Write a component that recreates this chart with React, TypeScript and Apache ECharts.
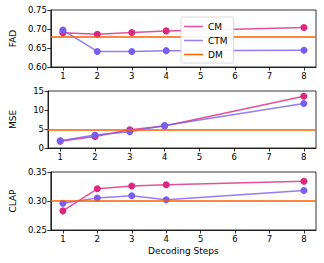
import React, { useEffect, useRef } from "react";
import * as echarts from "echarts";

const steps = [1, 2, 3, 4, 8];
const xTicks = [1, 2, 3, 4, 5, 6, 7, 8];

const fadCM = [0.690, 0.686, 0.691, 0.695, 0.704];
const fadCTM = [0.697, 0.641, 0.641, 0.643, 0.644];
const fadDM = 0.682;

const mseCM = [1.8, 3.05, 4.8, 5.8, 13.6];
const mseCTM = [1.9, 3.4, 4.3, 5.9, 11.7];
const mseDM = 4.8;

const clapCM = [0.283, 0.321, 0.326, 0.328, 0.334];
const clapCTM = [0.296, 0.305, 0.309, 0.302, 0.318];
const clapDM = 0.296;

const panels = [
  { name: "FAD", cm: fadCM, ctm: fadCTM, dm: fadDM, min: 0.6, max: 0.75, interval: 0.05, dec: 2 },
  { name: "MSE", cm: mseCM, ctm: mseCTM, dm: mseDM, min: 0, max: 15, interval: 5, dec: 0 },
  { name: "CLAP", cm: clapCM, ctm: clapCTM, dm: clapDM, min: 0.25, max: 0.35, interval: 0.05, dec: 2 },
];

const C_CM = "#dc267f";
const C_CTM = "#785ef0";
const C_DM = "#fe6100";
const FONT = "DejaVu Sans";

export default function App() {
  const ref = useRef<HTMLDivElement>(null);
  useEffect(() => {
    if (!ref.current) return;
    const chart = echarts.init(ref.current, null, { renderer: "svg" });
    const tops = [10, 91, 172];
    const heights = [57, 57, 58];
    const grids = panels.map((_, i) => ({
      left: 40,
      right: 8,
      top: tops[i],
      height: heights[i],
      show: true,
      borderColor: "#000",
      borderWidth: 0.8,
      backgroundColor: "transparent",
    }));
    const xAxes = panels.map((_, i) => ({
      type: "value",
      gridIndex: i,
      min: 0.65,
      max: 8.35,
      splitLine: { show: false },
      axisLine: { show: true, lineStyle: { color: "#000", width: 0.8 } },
      axisTick: { show: true, customValues: xTicks, length: 3.5, lineStyle: { color: "#000", width: 0.8 } },
      axisLabel: {
        customValues: xTicks,
        color: "#000",
        fontSize: 8.5,
        fontFamily: FONT,
        margin: 4,
        formatter: (v: number) => String(Math.round(v)),
      },
      name: i === 2 ? "Decoding Steps" : "",
      nameLocation: "middle",
      nameGap: 16,
      nameTextStyle: { color: "#000", fontSize: 9, fontFamily: FONT },
    }));
    const yAxes = panels.map((p, i) => ({
      type: "value",
      gridIndex: i,
      min: p.min,
      max: p.max,
      interval: p.interval,
      splitLine: { show: false },
      axisLine: { show: true, lineStyle: { color: "#000", width: 0.8 } },
      axisTick: { show: true, length: 3.5, lineStyle: { color: "#000", width: 0.8 } },
      axisLabel: {
        color: "#000",
        fontSize: 8.5,
        fontFamily: FONT,
        margin: 4,
        formatter: (v: number) => v.toFixed(p.dec),
      },
      name: p.name,
      nameLocation: "middle",
      nameGap: 31,
      nameRotate: 90,
      nameTextStyle: { color: "#000", fontSize: 9, fontFamily: FONT },
    }));
    const series: any[] = [];
    panels.forEach((p, i) => {
      series.push({
        name: "CM",
        type: "line",
        xAxisIndex: i,
        yAxisIndex: i,
        data: steps.map((s, k) => [s, p.cm[k]]),
        symbol: "circle",
        symbolSize: 7,
        itemStyle: { color: C_CM },
        lineStyle: { color: C_CM, width: 1.5, opacity: 0.8 },
        z: 2,
      });
      series.push({
        name: "CTM",
        type: "line",
        xAxisIndex: i,
        yAxisIndex: i,
        data: steps.map((s, k) => [s, p.ctm[k]]),
        symbol: "circle",
        symbolSize: 7,
        itemStyle: { color: C_CTM },
        lineStyle: { color: C_CTM, width: 1.5, opacity: 0.8 },
        z: 2,
      });
      series.push({
        name: "DM",
        type: "line",
        xAxisIndex: i,
        yAxisIndex: i,
        data: [],
        itemStyle: { color: C_DM },
        lineStyle: { color: C_DM, width: 1.5 },
        markLine: {
          silent: true,
          symbol: "none",
          label: { show: false },
          lineStyle: { color: C_DM, width: 1.5, type: "solid" },
          data: [{ yAxis: p.dm }],
        },
        z: 3,
      });
    });
    chart.setOption({
      animation: false,
      backgroundColor: "#fff",
      grid: grids,
      xAxis: xAxes,
      yAxis: yAxes,
      legend: {
        z: 20,
        data: [
          { name: "CM", icon: "rect", itemStyle: { color: C_CM, opacity: 0.8 } },
          { name: "CTM", icon: "rect", itemStyle: { color: C_CTM, opacity: 0.8 } },
          { name: "DM", icon: "rect", itemStyle: { color: C_DM } },
        ],
        orient: "vertical",
        left: 181,
        top: 17,
        itemWidth: 19,
        itemHeight: 1.5,
        itemGap: 5,
        padding: [5, 6, 4, 3],
        backgroundColor: "rgba(255,255,255,0.92)",
        borderColor: "#d0d0d0",
        borderWidth: 0.8,
        borderRadius: 2,
        selectedMode: false,
        textStyle: { color: "#000", fontSize: 9, fontFamily: FONT },
      },
      series,
    });
    return () => chart.dispose();
  }, []);
  return (
    <div
      ref={ref}
      style={{ position: "absolute", left: 0, top: 0, width: 324, height: 263 }}
    />
  );
}
